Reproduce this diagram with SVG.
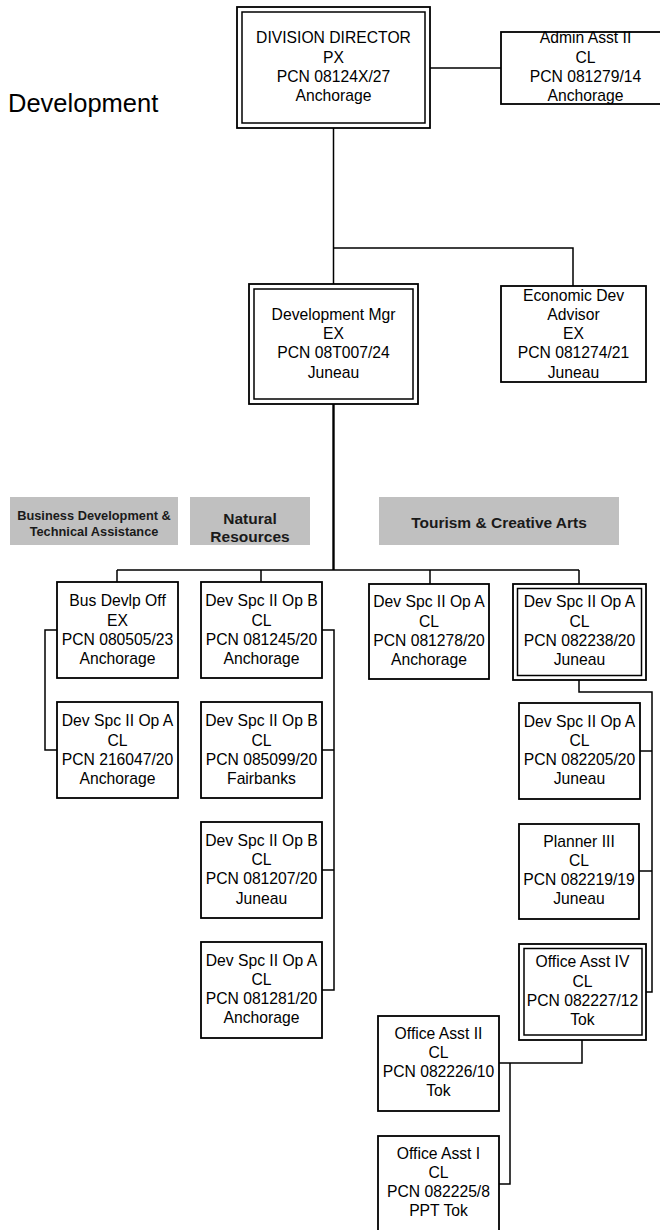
<svg xmlns="http://www.w3.org/2000/svg" width="660" height="1230" viewBox="0 0 660 1230">
<style>
.box{fill:#fff;stroke:#000;stroke-width:1.8}
.dbl{fill:none;stroke:#000;stroke-width:1.5}
.t{font-family:"Liberation Sans",Arial,sans-serif;font-size:15.7px;fill:#000;text-anchor:middle}
.hdr{fill:#c0c0c0}
.ht{font-family:"Liberation Sans",Arial,sans-serif;font-weight:bold;fill:#1a1a1a;text-anchor:middle}
.ln{fill:none;stroke:#000;stroke-width:1.5}
.thick{fill:none;stroke:#000;stroke-width:2.4}
</style>
<rect width="660" height="1230" fill="#fff"/>
<text x="8" y="112" font-family="Liberation Sans, Arial, sans-serif" font-size="25.5">Development</text>

<g id="connectors">
<path class="ln" d="M333.5,128 V284 M333.5,248 H573 V286 M430,68 H501"/>
<path class="thick" d="M333.5,404 V570"/>
<path class="ln" d="M117,570 H579 M117,570 V582 M261,570 V582 M430,570 V584 M579,570 V584"/>
<path class="ln" d="M57,630 H45 V750 H57"/>
<path class="ln" d="M322,630 H334 V990 H322 M322,750 H334 M322,870 H334"/>
<path class="ln" d="M579,680 V692 H652 V992 H646 M640,751 H652 M639,871 H652"/>
<path class="ln" d="M582,1040 V1063 H499 M510,1063 V1184 H499"/>
</g>

<g id="hdr-business">
<rect class="hdr" x="10" y="497" width="168" height="48"/>
<text class="ht" font-size="12.8" x="94" y="520">Business Development &amp;</text>
<text class="ht" font-size="12.8" x="94" y="536">Technical Assistance</text>
</g>
<g id="hdr-natural">
<rect class="hdr" x="190" y="497" width="120" height="48"/>
<text class="ht" font-size="15.5" x="250" y="524">Natural</text>
<text class="ht" font-size="15.5" x="250" y="542">Resources</text>
</g>
<g id="hdr-tourism">
<rect class="hdr" x="379" y="497" width="240" height="48"/>
<text class="ht" font-size="15.5" x="499" y="528">Tourism &amp; Creative Arts</text>
</g>

<g id="division-director">
<rect class="box" x="237" y="7" width="193" height="121" stroke-width="1.6"/>
<rect class="dbl" x="242" y="12" width="183" height="111"/>
<text class="t" x="333.5" y="43">DIVISION DIRECTOR</text>
<text class="t" x="333.5" y="62.5">PX</text>
<text class="t" x="333.5" y="82">PCN 08124X/27</text>
<text class="t" x="333.5" y="101">Anchorage</text>
</g>

<g id="admin-asst">
<rect class="box" x="501" y="32" width="169" height="72"/>
<text class="t" x="585.5" y="43">Admin Asst II</text>
<text class="t" x="585.5" y="63">CL</text>
<text class="t" x="585.5" y="82">PCN 081279/14</text>
<text class="t" x="585.5" y="101">Anchorage</text>
</g>

<g id="dev-mgr">
<rect class="box" x="249" y="284" width="169" height="120" stroke-width="1.6"/>
<rect class="dbl" x="254" y="289" width="159" height="110"/>
<text class="t" x="333.5" y="320">Development Mgr</text>
<text class="t" x="333.5" y="339">EX</text>
<text class="t" x="333.5" y="358">PCN 08T007/24</text>
<text class="t" x="333.5" y="378">Juneau</text>
</g>

<g id="econ-dev">
<rect class="box" x="501" y="286" width="145" height="96"/>
<text class="t" x="573.5" y="301">Economic Dev</text>
<text class="t" x="573.5" y="320">Advisor</text>
<text class="t" x="573.5" y="339">EX</text>
<text class="t" x="573.5" y="358">PCN 081274/21</text>
<text class="t" x="573.5" y="378">Juneau</text>
</g>

<g id="bus-devlp-off">
<rect class="box" x="57" y="582" width="121" height="96"/>
<text class="t" x="117.5" y="606">Bus Devlp Off</text>
<text class="t" x="117.5" y="625.5">EX</text>
<text class="t" x="117.5" y="645">PCN 080505/23</text>
<text class="t" x="117.5" y="664">Anchorage</text>
</g>
<g id="dev-216047">
<rect class="box" x="57" y="702" width="121" height="96"/>
<text class="t" x="117.5" y="726">Dev Spc II Op A</text>
<text class="t" x="117.5" y="745.5">CL</text>
<text class="t" x="117.5" y="765">PCN 216047/20</text>
<text class="t" x="117.5" y="784">Anchorage</text>
</g>

<g id="dev-081245">
<rect class="box" x="201" y="582" width="121" height="96"/>
<text class="t" x="261.5" y="606">Dev Spc II Op B</text>
<text class="t" x="261.5" y="625.5">CL</text>
<text class="t" x="261.5" y="645">PCN 081245/20</text>
<text class="t" x="261.5" y="664">Anchorage</text>
</g>
<g id="dev-085099">
<rect class="box" x="201" y="702" width="121" height="96"/>
<text class="t" x="261.5" y="726">Dev Spc II Op B</text>
<text class="t" x="261.5" y="745.5">CL</text>
<text class="t" x="261.5" y="765">PCN 085099/20</text>
<text class="t" x="261.5" y="784">Fairbanks</text>
</g>
<g id="dev-081207">
<rect class="box" x="201" y="822" width="121" height="96"/>
<text class="t" x="261.5" y="845.5">Dev Spc II Op B</text>
<text class="t" x="261.5" y="865">CL</text>
<text class="t" x="261.5" y="884">PCN 081207/20</text>
<text class="t" x="261.5" y="903.5">Juneau</text>
</g>
<g id="dev-081281">
<rect class="box" x="201" y="942" width="121" height="96"/>
<text class="t" x="261.5" y="965.5">Dev Spc II Op A</text>
<text class="t" x="261.5" y="984.5">CL</text>
<text class="t" x="261.5" y="1003.5">PCN 081281/20</text>
<text class="t" x="261.5" y="1022.5">Anchorage</text>
</g>

<g id="dev-081278">
<rect class="box" x="369" y="584" width="120" height="95"/>
<text class="t" x="429" y="607">Dev Spc II Op A</text>
<text class="t" x="429" y="627">CL</text>
<text class="t" x="429" y="646">PCN 081278/20</text>
<text class="t" x="429" y="665">Anchorage</text>
</g>

<g id="dev-082238">
<rect class="box" x="513" y="584" width="133" height="96" stroke-width="1.6"/>
<rect class="dbl" x="517.5" y="588.5" width="124" height="87"/>
<text class="t" x="579.5" y="607">Dev Spc II Op A</text>
<text class="t" x="579.5" y="627">CL</text>
<text class="t" x="579.5" y="646">PCN 082238/20</text>
<text class="t" x="579.5" y="665">Juneau</text>
</g>
<g id="dev-082205">
<rect class="box" x="519" y="703" width="121" height="96"/>
<text class="t" x="579.5" y="727">Dev Spc II Op A</text>
<text class="t" x="579.5" y="745.5">CL</text>
<text class="t" x="579.5" y="764.5">PCN 082205/20</text>
<text class="t" x="579.5" y="783.5">Juneau</text>
</g>
<g id="planner-iii">
<rect class="box" x="519" y="824" width="120" height="95"/>
<text class="t" x="579" y="847">Planner III</text>
<text class="t" x="579" y="866">CL</text>
<text class="t" x="579" y="885">PCN 082219/19</text>
<text class="t" x="579" y="904">Juneau</text>
</g>
<g id="office-asst-iv">
<rect class="box" x="519" y="944" width="127" height="96" stroke-width="1.6"/>
<rect class="dbl" x="524" y="948.5" width="118" height="86.5"/>
<text class="t" x="582.5" y="967">Office Asst IV</text>
<text class="t" x="582.5" y="986.5">CL</text>
<text class="t" x="582.5" y="1005.5">PCN 082227/12</text>
<text class="t" x="582.5" y="1025">Tok</text>
</g>
<g id="office-asst-ii">
<rect class="box" x="378" y="1016" width="121" height="95"/>
<text class="t" x="438.5" y="1038.5">Office Asst II</text>
<text class="t" x="438.5" y="1057.5">CL</text>
<text class="t" x="438.5" y="1077">PCN 082226/10</text>
<text class="t" x="438.5" y="1096">Tok</text>
</g>
<g id="office-asst-i">
<rect class="box" x="378" y="1136" width="121" height="96"/>
<text class="t" x="438.5" y="1159">Office Asst I</text>
<text class="t" x="438.5" y="1178">CL</text>
<text class="t" x="438.5" y="1197">PCN 082225/8</text>
<text class="t" x="438.5" y="1216">PPT Tok</text>
</g>
</svg>
